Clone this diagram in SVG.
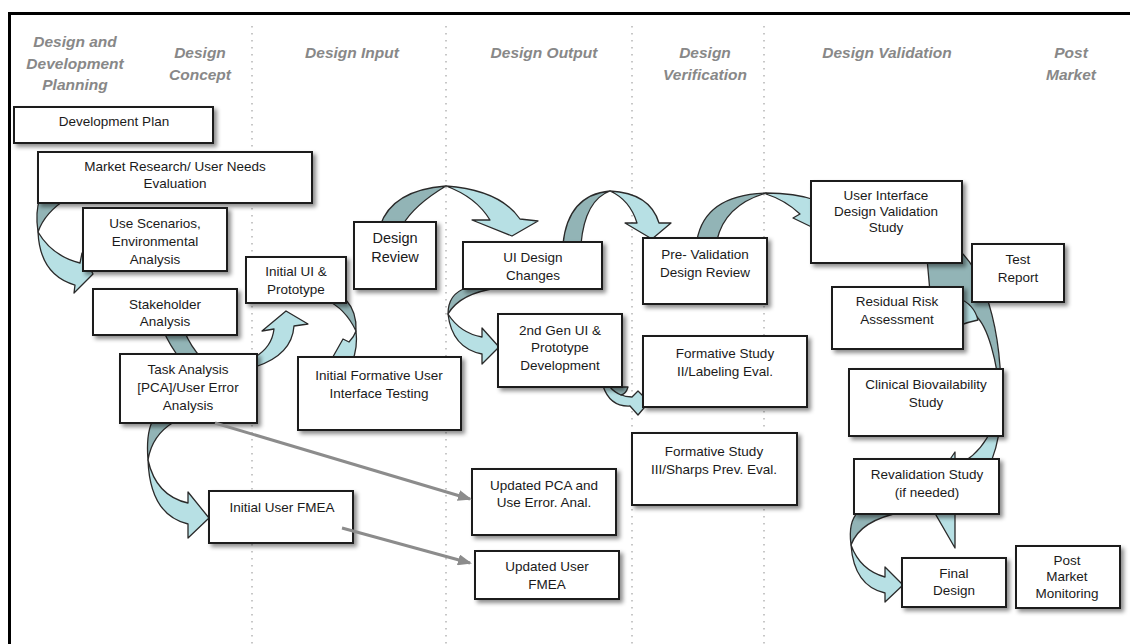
<svg xmlns="http://www.w3.org/2000/svg" width="1130" height="644" viewBox="0 0 1130 644">
<defs>
<filter id="sh" x="-10%" y="-10%" width="125%" height="135%">
<feDropShadow dx="3" dy="3" stdDeviation="2" flood-color="#000" flood-opacity="0.45"/>
</filter>
<marker id="ah" markerUnits="userSpaceOnUse" markerWidth="14" markerHeight="11" refX="12" refY="5.5" orient="auto">
<path d="M0,0 L14,5.5 L0,11 Z" fill="#8c8c8c"/>
</marker>
<style>
.hdr{font-family:"Liberation Sans",Arial,sans-serif;font-size:15.5px;font-weight:bold;font-style:italic;fill:#888;text-anchor:middle}
.box{fill:#fff;stroke:#1a1a1a;stroke-width:2;filter:url(#sh)}
.lbl{font-family:"Liberation Sans",Arial,sans-serif;font-size:13.5px;fill:#1a1a1a;text-anchor:middle}
.dk{fill:#92b4b6;stroke:#2a2a2a;stroke-width:1.3;stroke-linejoin:round}
.lt{fill:#b7e0e4;stroke:#2a2a2a;stroke-width:1.3;stroke-linejoin:round}
.gl{stroke:#8c8c8c;stroke-width:3;fill:none;marker-end:url(#ah)}
.dot{stroke:#b5b5b5;stroke-width:1.5;stroke-dasharray:1.5 5.5;fill:none}
</style>
</defs>
<rect width="1130" height="644" fill="#fff"/>
<g id="frame">
<path d="M9.5,650 V13.5 H1135" fill="none" stroke="#000" stroke-width="3"/>
<line class="dot" x1="252" y1="26" x2="252" y2="644"/>
<line class="dot" x1="446" y1="26" x2="446" y2="644"/>
<line class="dot" x1="632" y1="26" x2="632" y2="644"/>
<line class="dot" x1="764" y1="26" x2="764" y2="644"/>
</g>
<g id="headers">
<text class="hdr"><tspan x="75" y="47">Design and</tspan><tspan x="75" y="69">Development</tspan><tspan x="75" y="90">Planning</tspan></text>
<text class="hdr"><tspan x="200" y="58">Design</tspan><tspan x="200" y="80">Concept</tspan></text>
<text class="hdr" x="352" y="58">Design Input</text>
<text class="hdr" x="544" y="58">Design Output</text>
<text class="hdr"><tspan x="705" y="58">Design</tspan><tspan x="705" y="80">Verification</tspan></text>
<text class="hdr" x="887" y="58">Design Validation</text>
<text class="hdr"><tspan x="1071" y="58">Post</tspan><tspan x="1071" y="80">Market</tspan></text>
</g>
<g id="connectors">
<path class="dk" d="M40,198 L68,198 Q45,212 38,232 Q35,212 40,198 Z"/>
<path class="lt" d="M38,232 Q40,275 75,285 L74,293 L93,274 L82,253 L80,263 Q52,256 38,232 Z"/>
<path class="dk" d="M163,330 L184,330 Q190,346 203,360 L181,360 Q170,346 163,330 Z"/>
<path class="lt" d="M255,357 Q272,347 274,329 L262,331 L286,311 L308,324 L294,326 Q292,355 255,367 Z"/>
<path class="dk" d="M326,300 L346,300 Q357,312 356,331 Q345,308 326,300 Z"/>
<path class="lt" d="M356,331 Q358,348 352,362 L330,362 L343,339 L349,342 Q354,337 356,331 Z"/>
<path class="dk" d="M380,226 Q392,190 446,186 Q414,205 402,226 Z"/>
<path class="lt" d="M446,186 Q500,190 520,219 L538,221 L512,236 L472,220 L490,220 Q476,197 446,186 Z"/>
<path class="dk" d="M466,288 L498,288 Q460,293 448,314 Q448,294 466,288 Z"/>
<path class="lt" d="M448,314 Q452,348 482,354 L482,364 L499,347 L482,328 L482,337 Q460,333 448,314 Z"/>
<path class="dk" d="M563,244 Q568,195 610,191 Q585,200 581,244 Z"/>
<path class="lt" d="M610,191 Q650,193 659,223 L671,223 L652,239 L625,223 L637,223 Q630,200 610,191 Z"/>
<path class="dk" d="M697,240 Q705,195 766,193 Q725,205 717,240 Z"/>
<path class="lt" d="M766,193 Q795,193 815,200 L822,232 L793,218 L800,214 Q785,200 766,194 Z"/>
<path class="lt" d="M603,386 Q610,407 630,406 L638,415 L649,402 L638,391 L632,397 Q618,397 612,386 Z"/>
<path class="dk" d="M610,387 L628,387 Q626,394 621,395 Q614,392 610,387 Z"/>
<path class="dk" d="M152,422 L174,422 Q152,435 148,460 Q146,435 152,422 Z"/>
<path class="lt" d="M148,460 Q150,515 188,524 L188,538 L209,518 L188,492 L188,503 Q156,496 148,460 Z"/>
<path class="dk" d="M925,236 C983,238 1002,330 1001,402 C997,360 988,326 975,315 C960,305 945,292 930,292 Z"/>
<path class="lt" d="M958,298 Q974,304 978,320 Q968,322 958,326 Z"/>
<path class="lt" d="M1001,402 C1002,440 990,485 955,510 L955,548 L925,496 L955,452 L955,466 C983,455 997,425 998,402 Z"/>
<path class="dk" d="M858,512 L903,512 Q860,520 851,545 Q848,522 858,512 Z"/>
<path class="lt" d="M851,545 Q854,586 885,593 L885,602 L903,585 L885,567 L885,577 Q860,570 851,545 Z"/>
</g>
<g id="n-devplan"><rect class="box" x="14" y="107" width="199" height="36"/><text class="lbl" x="114" y="126">Development Plan</text></g>
<g id="n-market"><rect class="box" x="38" y="152" width="274" height="51"/><text class="lbl"><tspan x="175" y="171">Market Research/ User Needs</tspan><tspan x="175" y="188">Evaluation</tspan></text></g>
<g id="n-usescen"><rect class="box" x="83" y="208" width="144" height="63"/><text class="lbl"><tspan x="155" y="228">Use Scenarios,</tspan><tspan x="155" y="246">Environmental</tspan><tspan x="155" y="264">Analysis</tspan></text></g>
<g id="n-stake"><rect class="box" x="93" y="289" width="144" height="46"/><text class="lbl"><tspan x="165" y="309">Stakeholder</tspan><tspan x="165" y="326">Analysis</tspan></text></g>
<g id="n-task"><rect class="box" x="120" y="354" width="137" height="69"/><text class="lbl"><tspan x="188" y="374">Task Analysis</tspan><tspan x="188" y="392">[PCA]/User Error</tspan><tspan x="188" y="410">Analysis</tspan></text></g>
<g id="n-initui"><rect class="box" x="246" y="257" width="100" height="46"/><text class="lbl"><tspan x="296" y="276">Initial UI &amp;</tspan><tspan x="296" y="294">Prototype</tspan></text></g>
<g id="n-review"><rect class="box" x="354" y="222" width="82" height="67"/><text class="lbl" style="font-size:14.5px"><tspan x="395" y="243">Design</tspan><tspan x="395" y="262">Review</tspan></text></g>
<g id="n-form1"><rect class="box" x="298" y="357" width="163" height="73"/><text class="lbl"><tspan x="379" y="380">Initial Formative User</tspan><tspan x="379" y="398">Interface Testing</tspan></text></g>
<g id="n-uichg"><rect class="box" x="463" y="242" width="139" height="47"/><text class="lbl"><tspan x="533" y="262">UI Design</tspan><tspan x="533" y="280">Changes</tspan></text></g>
<g id="n-gen2"><rect class="box" x="498" y="314" width="124" height="73"/><text class="lbl"><tspan x="560" y="335">2nd Gen UI &amp;</tspan><tspan x="560" y="352">Prototype</tspan><tspan x="560" y="370">Development</tspan></text></g>
<g id="n-preval"><rect class="box" x="643" y="238" width="124" height="66"/><text class="lbl"><tspan x="705" y="259">Pre- Validation</tspan><tspan x="705" y="277">Design Review</tspan></text></g>
<g id="n-form2"><rect class="box" x="643" y="336" width="164" height="71"/><text class="lbl"><tspan x="725" y="358">Formative Study</tspan><tspan x="725" y="376">II/Labeling Eval.</tspan></text></g>
<g id="n-form3"><rect class="box" x="632" y="433" width="165" height="72"/><text class="lbl"><tspan x="714" y="456">Formative Study</tspan><tspan x="714" y="474">III/Sharps Prev. Eval.</tspan></text></g>
<g id="n-updpca"><rect class="box" x="472" y="469" width="144" height="66"/><text class="lbl"><tspan x="544" y="490">Updated PCA and</tspan><tspan x="544" y="507">Use Error. Anal.</tspan></text></g>
<g id="n-updfmea"><rect class="box" x="475" y="551" width="144" height="48"/><text class="lbl"><tspan x="547" y="571">Updated User</tspan><tspan x="547" y="589">FMEA</tspan></text></g>
<g id="n-initfmea"><rect class="box" x="209" y="491" width="144" height="52"/><text class="lbl" x="282" y="512">Initial User FMEA</text></g>
<g id="n-uival"><rect class="box" x="811" y="181" width="151" height="82"/><text class="lbl"><tspan x="886" y="200">User Interface</tspan><tspan x="886" y="216">Design Validation</tspan><tspan x="886" y="232">Study</tspan></text></g>
<g id="n-test"><rect class="box" x="972" y="244" width="92" height="58"/><text class="lbl"><tspan x="1018" y="264">Test</tspan><tspan x="1018" y="282">Report</tspan></text></g>
<g id="n-resid"><rect class="box" x="832" y="287" width="131" height="62"/><text class="lbl"><tspan x="897" y="306">Residual Risk</tspan><tspan x="897" y="324">Assessment</tspan></text></g>
<g id="n-clin"><rect class="box" x="849" y="369" width="154" height="67"/><text class="lbl"><tspan x="926" y="389">Clinical Biovailability</tspan><tspan x="926" y="407">Study</tspan></text></g>
<g id="n-reval"><rect class="box" x="854" y="459" width="145" height="55"/><text class="lbl"><tspan x="927" y="479">Revalidation Study</tspan><tspan x="927" y="497">(if needed)</tspan></text></g>
<g id="n-final"><rect class="box" x="902" y="558" width="104" height="49"/><text class="lbl"><tspan x="954" y="578">Final</tspan><tspan x="954" y="595">Design</tspan></text></g>
<g id="n-post"><rect class="box" x="1016" y="546" width="104" height="62"/><text class="lbl"><tspan x="1067" y="565">Post</tspan><tspan x="1067" y="581">Market</tspan><tspan x="1067" y="598">Monitoring</tspan></text></g>
<g id="connectors-lines">
<path class="gl" d="M215,423 L470,499"/>
<path class="gl" d="M342,528 L470,563"/>
</g>
</svg>
